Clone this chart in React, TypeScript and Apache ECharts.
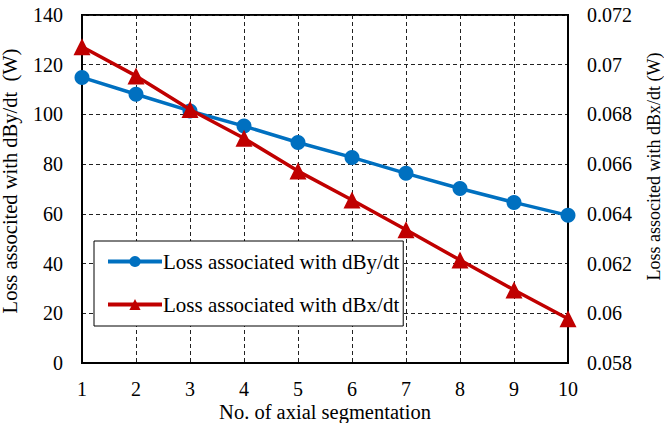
import React, { useEffect, useRef } from "react";
import * as echarts from "echarts";

const xValues = [1, 2, 3, 4, 5, 6, 7, 8, 9, 10];
const lossDBy = [114.9, 108.1, 101.4, 95.3, 88.7, 82.7, 76.3, 70.2, 64.6, 59.4];
const lossDBx = [0.07072, 0.06955, 0.06820, 0.06704, 0.06572, 0.06456, 0.06336, 0.06214, 0.06094, 0.05978];
const seriesNames = ["Loss associated with dBy/dt", "Loss associated with dBx/dt"];

const FONT = "'Liberation Serif', 'Times New Roman', serif";

export default function App() {
  const ref = useRef<HTMLDivElement>(null);
  useEffect(() => {
    document.body.style.margin = "0";
    const chart = echarts.init(ref.current!, null, { renderer: "svg" });
    const gridLine = { show: true, lineStyle: { color: "#222", type: [4, 3] as any, width: 1 } };
    chart.setOption({
      animation: false,
      backgroundColor: "#fff",
      textStyle: { fontFamily: FONT },
      grid: {
        left: 82, right: 96, top: 15, bottom: 60,
        outerBoundsMode: "none",
        containLabel: false,
        show: true, borderColor: "#000", borderWidth: 2, backgroundColor: "transparent",
      },
      legend: {
        orient: "vertical",
        left: 94,
        top: 241,
        padding: [10, 4, 11, 12],
        itemGap: 22,
        itemWidth: 54,
        itemHeight: 14,
        borderColor: "#000",
        borderWidth: 1,
        backgroundColor: "#fff",
        lineStyle: { width: 4 },
        textStyle: { fontFamily: FONT, fontSize: 21, color: "#000", padding: [0, 0, 0, -4] },
        data: seriesNames,
      },
      xAxis: {
        type: "value",
        min: 1, max: 10, interval: 1,
        name: "No. of axial segmentation",
        nameLocation: "middle",
        nameGap: 38,
        nameMoveOverlap: false,
        nameTextStyle: { fontFamily: FONT, fontSize: 20.5, color: "#000" },
        axisLine: { show: true, lineStyle: { color: "#000", width: 2 } },
        axisTick: { show: false },
        axisLabel: { fontFamily: FONT, fontSize: 20, color: "#000", margin: 16 },
        splitLine: gridLine,
      },
      yAxis: [
        {
          type: "value",
          min: 0, max: 140, interval: 20,
          name: "Loss associted with dBy/dt  (W)",
          nameLocation: "middle",
          nameRotate: 90,
          nameGap: 62,
          nameMoveOverlap: false,
          nameTextStyle: { fontFamily: FONT, fontSize: 20.5, color: "#000", padding: [0, 0, 0, 16] },
          axisLine: { show: true, lineStyle: { color: "#000", width: 2 } },
          axisTick: { show: false },
          axisLabel: { fontFamily: FONT, fontSize: 20, color: "#000", margin: 19 },
          splitLine: gridLine,
        },
        {
          type: "value",
          position: "right",
          min: 0.058, max: 0.072, interval: 0.002,
          name: "Loss associted with dBx/dt (W)",
          nameLocation: "middle",
          nameRotate: 90,
          nameGap: 77,
          nameMoveOverlap: false,
          nameTextStyle: { fontFamily: FONT, fontSize: 18, color: "#000", padding: [0, 0, 0, 45] },
          axisLine: { show: true, lineStyle: { color: "#000", width: 2 } },
          axisTick: { show: false },
          axisLabel: {
            fontFamily: FONT, fontSize: 20, color: "#000", margin: 19,
            formatter: (v: number) => String(parseFloat(v.toFixed(4))),
          },
          splitLine: { show: false },
        },
      ],
      series: [
        {
          name: seriesNames[0],
          type: "line",
          yAxisIndex: 0,
          data: xValues.map((x, i) => [x, lossDBy[i]]),
          symbol: "circle",
          symbolSize: 15,
          lineStyle: { color: "#0070C0", width: 3.5 },
          itemStyle: { color: "#0070C0" },
          z: 3,
        },
        {
          name: seriesNames[1],
          type: "line",
          yAxisIndex: 1,
          data: xValues.map((x, i) => [x, lossDBx[i]]),
          symbol: "triangle",
          symbolSize: 17,
          lineStyle: { color: "#C00000", width: 3.5 },
          itemStyle: { color: "#C00000" },
          z: 4,
        },
      ],
    });
    return () => chart.dispose();
  }, []);
  return <div ref={ref} style={{ width: 664, height: 423 }} />;
}
